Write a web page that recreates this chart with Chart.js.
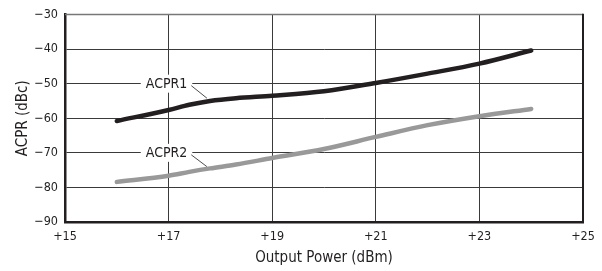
<!DOCTYPE html>
<html>
<head>
<meta charset="utf-8">
<script src="https://cdn.jsdelivr.net/npm/chart.js@4.4.1/dist/chart.umd.min.js"></script>
<style>
  html, body { margin: 0; padding: 0; background: #fff; }
  #wrap { width: 602px; height: 271px; position: relative; }
</style>
</head>
<body>
<div id="wrap"><canvas id="acpr-chart"></canvas></div>
<script>
const acpr1Power = [16, 17, 17.4, 17.8, 18.3, 19, 20, 21, 22, 23, 24];
const acpr1 = [-60.8, -57.6, -56.1, -55.0, -54.2, -53.5, -52.2, -49.8, -47.1, -44.2, -40.4];
const acpr2Power = [16, 17, 17.4, 17.8, 18.3, 19, 20, 21, 22, 23, 24];
const acpr2 = [-78.4, -76.6, -75.5, -74.5, -73.4, -71.5, -68.9, -65.4, -62.0, -59.4, -57.3];
const xTicks = [15, 17, 19, 21, 23, 25];
const yTicks = [-90, -80, -70, -60, -50, -40, -30];
const seriesNames = ['ACPR1', 'ACPR2'];

const FONT = "'Liberation Sans Narrow', 'DejaVu Sans Condensed', 'Arial Narrow', sans-serif";
Chart.defaults.font.family = FONT;
Chart.defaults.color = '#231f20';

// callout labels sitting on a gridline, with a short leader to the curve
const callouts = [
  { text: seriesNames[0], x: 16.96, y: -50, tipX: 17.74, tipY: -54.2 },
  { text: seriesNames[1], x: 16.96, y: -70, tipX: 17.74, tipY: -74.0 }
];

const calloutPlugin = {
  id: 'callouts',
  beforeDatasetsDraw(chart) {
    const ctx = chart.ctx;
    const xs = chart.scales.x, ys = chart.scales.y;
    ctx.save();
    ctx.font = '14px ' + FONT;
    ctx.textAlign = 'center';
    ctx.textBaseline = 'middle';
    callouts.forEach(c => {
      const px = xs.getPixelForValue(c.x);
      const py = ys.getPixelForValue(c.y);
      const w = ctx.measureText(c.text).width;
      ctx.fillStyle = '#fff';
      ctx.fillRect(px - w / 2 - 5, py - 9, w + 10, 18);
      ctx.fillStyle = '#231f20';
      ctx.fillText(c.text, px, py + 1);
      ctx.strokeStyle = '#231f20';
      ctx.lineWidth = 0.8;
      ctx.beginPath();
      ctx.moveTo(px + w / 2 + 4, py + 2);
      ctx.lineTo(xs.getPixelForValue(c.tipX), ys.getPixelForValue(c.tipY));
      ctx.stroke();
    });
    ctx.restore();
  },
  afterDraw(chart) {
    const ctx = chart.ctx;
    const a = chart.chartArea;
    ctx.save();
    ctx.strokeStyle = '#777';
    ctx.lineWidth = 1.5;
    ctx.beginPath();
    ctx.moveTo(a.left, a.top);
    ctx.lineTo(a.right, a.top);
    ctx.stroke();
    ctx.strokeStyle = '#231f20';
    ctx.lineWidth = 2;
    ctx.beginPath();
    ctx.moveTo(a.right, a.top - 0.75);
    ctx.lineTo(a.right, a.bottom + 1);
    ctx.stroke();
    ctx.restore();
  }
};

const chartAcpr = document.getElementById('acpr-chart');
new Chart(chartAcpr, {
  type: 'line',
  data: {
    datasets: [{
      label: seriesNames[0],
      data: acpr1Power.map((p, i) => ({ x: p, y: acpr1[i] })),
      borderColor: '#231f20',
      borderWidth: 4.5,
      borderCapStyle: 'round',
      pointRadius: 0,
      cubicInterpolationMode: 'monotone'
    }, {
      label: seriesNames[1],
      data: acpr2Power.map((p, i) => ({ x: p, y: acpr2[i] })),
      borderColor: '#999999',
      borderWidth: 4.5,
      borderCapStyle: 'round',
      pointRadius: 0,
      cubicInterpolationMode: 'monotone'
    }]
  },
  options: {
    responsive: true,
    maintainAspectRatio: false,
    animation: false,
    layout: {
      padding: { top: 10, right: 19, left: 0, bottom: 0 }
    },
    scales: {
      x: {
        type: 'linear',
        min: 15,
        max: 25,
        afterBuildTicks: s => { s.ticks = xTicks.map(v => ({ value: v })); },
        afterFit: s => { s.height = 49; },
        ticks: {
          padding: 7,
          font: { size: 12.5 },
          callback: v => '+' + v
        },
        grid: { color: '#3a3a3a', lineWidth: 1, drawTicks: false },
        border: { color: '#231f20', width: 2.5 },
        title: {
          display: true,
          text: 'Output Power (dBm)',
          font: { size: 15 },
          padding: { top: 0, bottom: 3.5 }
        }
      },
      y: {
        min: -90,
        max: -30,
        afterBuildTicks: s => { s.ticks = yTicks.map(v => ({ value: v })); },
        afterFit: s => { s.width = 65; },
        ticks: {
          padding: 7,
          font: { size: 12.5 },
          callback: v => String(v).replace('-', '\u2212')
        },
        grid: { color: '#3a3a3a', lineWidth: 1, drawTicks: false },
        border: { color: '#231f20', width: 2.5 },
        title: {
          display: true,
          text: 'ACPR (dBc)',
          font: { size: 15 },
          padding: { top: 14, bottom: 0 }
        }
      }
    },
    plugins: {
      legend: { display: false },
      tooltip: { enabled: false }
    }
  },
  plugins: [calloutPlugin]
});
</script>
</body>
</html>
